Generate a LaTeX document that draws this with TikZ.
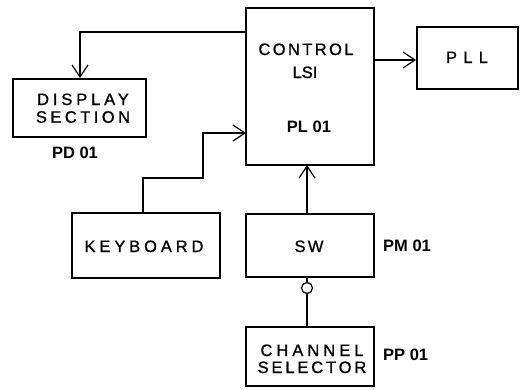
\documentclass[tikz,border=0pt]{standalone}
\usepackage{fontspec}
\setmainfont{Liberation Sans}
\newfontfamily\trk[LetterSpace=22,FakeBold=1]{Liberation Sans}
\usetikzlibrary{arrows.meta}
\begin{document}
\begin{tikzpicture}[x=1pt,y=-1pt,
  blk/.style 2 args={draw, line width=1.8pt, rectangle, inner sep=0pt, minimum width=#1pt, minimum height=#2pt},
  wire/.style={line width=1.2pt},
  arr/.style={wire, -{Straight Barb[length=12pt,width=16pt,line width=1.2pt]}},
  lbl/.style={font=\fontsize{16.5}{18}\trk, anchor=base, inner sep=0pt},
  tag/.style={font=\fontsize{16.5}{18}\selectfont\bfseries, anchor=base, inner sep=0pt},
  knobstyle/.style={draw, circle, line width=1.2pt, minimum size=11pt, inner sep=0pt}]
\useasboundingbox (0,0) rectangle (522,389);
% blocks
\node[blk={128}{157}] (ctrl) at (310,86.5) {};
\node[blk={101}{62}] (pll) at (467.5,58) {};
\node[blk={133}{58}] (disp) at (79.5,108) {};
\node[blk={148}{65}] (kbd) at (146,245.5) {};
\node[blk={128}{63}] (sw) at (310,245.5) {};
\node[blk={128}{59}] (chan) at (310,356.5) {};
\node[knobstyle] (knob) at (307,288) {};
% texts
\node[lbl] (tctrl) at (306,55) {\addfontfeature{LetterSpace=14.5}CONTROL};
\node[lbl] (tlsi) at (305,78) {\addfontfeature{LetterSpace=0}LSI};
\node[tag] (tpl) at (309,132) {PL 01};
\node[lbl] (tpll) at (467,63) {\addfontfeature{LetterSpace=38}PLL};
\node[lbl] (tdisp1) at (83,105) {\addfontfeature{LetterSpace=23.5}DISPLAY};
\node[lbl] (tdisp2) at (83,122.7) {\addfontfeature{LetterSpace=21}SECTION};
\node[tag] (tpd) at (75,158) {PD 01};
\node[lbl] (tkbd) at (144,252) {\addfontfeature{LetterSpace=23.6}KEYBOARD};
\node[lbl] (tsw) at (309,252) {\addfontfeature{LetterSpace=14.5}SW};
\node[tag, anchor=base west] (tpm) at (383,251) {PM 01};
\node[lbl] (tch1) at (312,356) {\addfontfeature{LetterSpace=24.4}CHANNEL};
\node[lbl] (tch2) at (312,373) {\addfontfeature{LetterSpace=17.4}SELECTOR};
\node[tag, anchor=base west] (tpp) at (383,360) {PP 01};
% connector points
\coordinate (c1) at (246,32);
\coordinate (c2) at (80,32);
\coordinate (p) at (0,60);
\coordinate (k0) at (143,213);
\coordinate (k1) at (203,178);
\coordinate (k2) at (246,133);
\coordinate (s0) at (307,214);
\coordinate (s1) at (307,165);
% connectors
\draw[arr] (c1) -- (c2) -- (disp.north -| c2);
\draw[arr] (ctrl.east |- p) -- (pll.west |- p);
\draw[arr] (k0) |- (k1) |- (k2);
\draw[arr] (s0) -- (s1);
\draw[wire] (sw.south -| knob) -- (knob.north);
\draw[wire] (knob.south) -- (chan.north -| knob);
\end{tikzpicture}
\end{document}
